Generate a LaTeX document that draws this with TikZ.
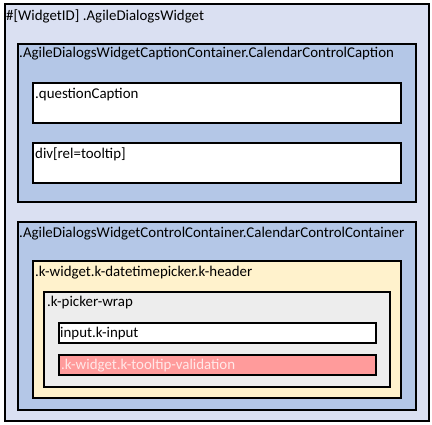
\documentclass[tikz,border=0pt]{standalone}
\usepackage{fontspec}
\setmainfont{Carlito}
\definecolor{outerfill}{HTML}{DAE0F2}
\definecolor{blueFill}{HTML}{B4C7E7}
\definecolor{yellowFill}{HTML}{FFF2CC}
\definecolor{greyFill}{HTML}{EDEDED}
\definecolor{redFill}{HTML}{FF9B9B}
\definecolor{redText}{HTML}{FFE8E8}
\begin{document}
\begin{tikzpicture}[x=1pt,y=-1pt,
  box/.style={draw=black,line width=1.6pt,rectangle,inner sep=0pt,anchor=north west},
  lbl/.style={anchor=base west,inner sep=0pt,font=\fontsize{14.9}{17}\selectfont}]
\useasboundingbox (0,0) rectangle (432,424);
\node[box,fill=outerfill,minimum width=424pt,minimum height=417pt] (outer) at (4,3) {};
\node[box,fill=blueFill,minimum width=398pt,minimum height=158pt] (cap) at (17,43) {};
\node[box,fill=white,minimum width=368pt,minimum height=40pt] (qc) at (32,82) {};
\node[box,fill=white,minimum width=368pt,minimum height=40pt] (tt) at (32,142) {};
\node[box,fill=blueFill,minimum width=398pt,minimum height=188pt] (ctl) at (17,221) {};
\node[box,fill=yellowFill,minimum width=368pt,minimum height=137pt] (kw) at (32,260) {};
\node[box,fill=greyFill,minimum width=346pt,minimum height=95pt] (pw) at (43,291) {};
\node[box,fill=white,minimum width=317pt,minimum height=20pt] (inp) at (58,322) {};
\node[box,fill=redFill,minimum width=317pt,minimum height=20pt] (val) at (58,354) {};
\node[lbl] (tOuter) at (6,20) {\#[WidgetID] .AgileDialogsWidget};
\node[lbl] (tCap) at (19,57) {.AgileDialogsWidgetCaptionContainer.CalendarControlCaption};
\node[lbl] (tQc) at (35,98) {.questionCaption};
\node[lbl] (tTt) at (35,158) {div[rel=tooltip]};
\node[lbl] (tCtl) at (19,237) {.AgileDialogsWidgetControlContainer.CalendarControlContainer};
\node[lbl] (tKw) at (35,276) {.k-widget.k-datetimepicker.k-header};
\node[lbl] (tPw) at (47,306) {.k-picker-wrap};
\node[lbl] (tInp) at (60,337) {input.k-input};
\node[lbl,text=redText] (tVal) at (61,369) {.k-widget.k-tooltip-validation};
\end{tikzpicture}
\end{document}
